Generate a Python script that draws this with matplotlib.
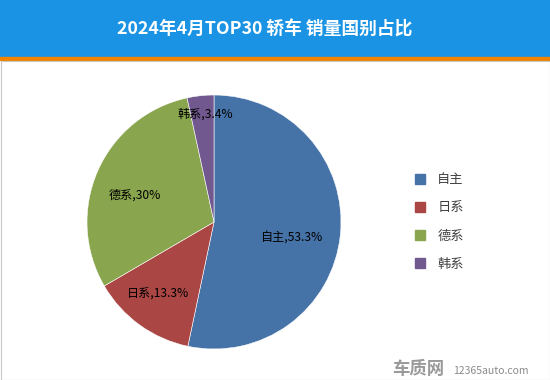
import matplotlib
matplotlib.use("Agg")
import matplotlib.pyplot as plt
import numpy as np

plt.rcParams["font.family"] = ["Noto Sans CJK SC", "DejaVu Sans"]

categories = ["自主", "日系", "德系", "韩系"]
shares = [53.3, 13.3, 30.0, 3.4]
share_labels = ["53.3%", "13.3%", "30%", "3.4%"]
colors = ["#4572A7", "#AA4643", "#89A54E", "#71588F"]
# label placement (radial distance, angle offset in degrees from wedge middle)
label_dist = [0.62, 0.72, 0.66, 0.85]
label_shift = [-5, -1.7, 5, -1.3]

fig = plt.figure(figsize=(5.5, 3.8), dpi=100, facecolor="white")

# header banner
fig.patches.append(plt.Rectangle((0, 1 - 57 / 380), 1, 57 / 380, transform=fig.transFigure,
                                 color="#1A93E4", zorder=0))
fig.patches.append(plt.Rectangle((0, 1 - 60 / 380), 1, 3 / 380, transform=fig.transFigure,
                                 color="#F08300", zorder=1))
fig.patches.append(plt.Rectangle((0.5 / 550, 0.5 / 380), 549 / 550, 1 - 61 / 380,
                                 transform=fig.transFigure, fill=False,
                                 edgecolor="#C8C8C8", linewidth=0.8, zorder=1))
fig.text(265 / 550, 1 - 30 / 380, "2024年4月TOP30 轿车 销量国别占比", color="white",
         fontsize=12.8, fontweight="bold", ha="center", va="center")

ax = fig.add_axes([87 / 550, 31 / 380, 254 / 550, 254 / 380])
wedges, _ = ax.pie(shares, colors=colors, startangle=90, counterclock=False,
                   wedgeprops=dict(edgecolor="white", linewidth=0.4))
ax.set_xlim(-1, 1)
ax.set_ylim(-1, 1)
ax.set_aspect("equal")

for w, cat, lab, d, s in zip(wedges, categories, share_labels, label_dist, label_shift):
    ang = np.deg2rad((w.theta1 + w.theta2) / 2 + s)
    ax.text(d * np.cos(ang), d * np.sin(ang), f"{cat},{lab}", ha="center", va="center",
            fontsize=8.7, color="black")

handles = [plt.Rectangle((0, 0), 1, 1, color=c) for c in colors]
fig.legend(handles, categories, loc="center left", bbox_to_anchor=(403 / 550, 1 - 222 / 380),
           frameon=False, fontsize=9.5, handlelength=0.8, handleheight=0.8,
           labelspacing=1.15, handletextpad=0.9, labelcolor="#404040")

# watermark
fig.text(392 / 550, 1 - 369 / 380, "车质网", fontsize=12.5, fontweight="bold",
         color="#9A9A9A", ha="left", va="center")
fig.text(453 / 550, 1 - 371 / 380, "12365auto.com", fontsize=7.5,
         color="#8A8A8A", ha="left", va="center")

fig.savefig("out.png", dpi=100, facecolor="white")
